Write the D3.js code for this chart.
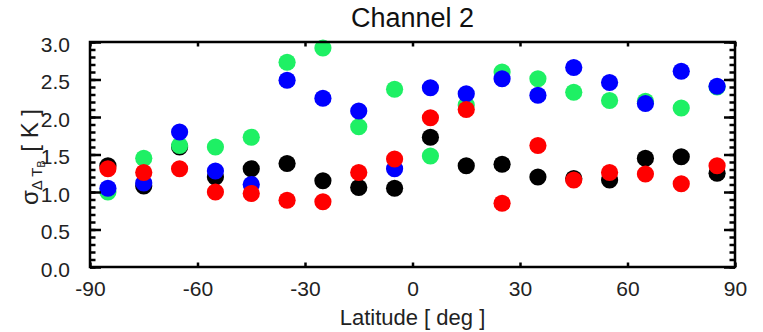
<!DOCTYPE html>
<html>
<head>
<meta charset="utf-8">
<script src="https://cdn.jsdelivr.net/npm/d3@7"></script>
<style>
  html, body { margin: 0; padding: 0; background: #fff; }
  svg { display: block; font-family: "Liberation Sans", Arial, Helvetica, sans-serif; }
</style>
</head>
<body>
<svg id="chart" width="763" height="332"></svg>
<script>
// Latitude bin centres (deg)
const latitudes = [-85, -75, -65, -55, -45, -35, -25, -15, -5, 5, 15, 25, 35, 45, 55, 65, 75, 85];

// Standard deviation of the brightness-temperature difference per latitude bin (K)
const seriesBlack = [1.35, 1.08, 1.60, 1.20, 1.31, 1.38, 1.15, 1.06, 1.05, 1.73, 1.35, 1.37, 1.20, 1.18, 1.16, 1.45, 1.47, 1.25];
const seriesGreen = [1.00, 1.45, 1.62, 1.60, 1.73, 2.73, 2.92, 1.87, 2.37, 1.48, 2.16, 2.60, 2.51, 2.33, 2.22, 2.21, 2.12, 2.40];
const seriesBlue  = [1.05, 1.12, 1.80, 1.28, 1.10, 2.49, 2.25, 2.08, 1.31, 2.39, 2.31, 2.51, 2.29, 2.66, 2.46, 2.18, 2.61, 2.41];
const seriesRed   = [1.31, 1.26, 1.31, 1.00, 0.98, 0.89, 0.87, 1.26, 1.44, 1.99, 2.10, 0.85, 1.62, 1.16, 1.26, 1.24, 1.11, 1.35];

const seriesColors = ["#000000", "#1ef064", "#0000ff", "#ff0000"];

// Axis ticks
const xTicks = [-90, -60, -30, 0, 30, 60, 90];
const yTicks = [0.0, 0.5, 1.0, 1.5, 2.0, 2.5, 3.0];
const yMinorTicks = d3.range(0, 3.0001, 0.1);

const titleText = "Channel 2";
const xTitle = "Latitude [ deg ]";

const svg = d3.select("#chart");
const plot = { left: 90, right: 735, top: 42, bottom: 267 };

const x = d3.scaleLinear().domain([-90, 90]).range([plot.left, plot.right]);
const y = d3.scaleLinear().domain([0, 3]).range([plot.bottom, plot.top]);

const fontSize = 21;
const stroke = 2.5;

// Points, drawn in series order so later colours sit on top
const series = [seriesBlack, seriesGreen, seriesBlue, seriesRed];
series.forEach((vals, i) => {
  svg.append("g")
    .selectAll("circle")
    .data(latitudes.map((lat, j) => ({ lat, v: vals[j] })))
    .join("circle")
    .attr("cx", d => x(d.lat))
    .attr("cy", d => y(d.v))
    .attr("r", 8.6)
    .attr("fill", seriesColors[i]);
});

function styleAxis(g) {
  g.select(".domain").remove();
  g.selectAll(".tick line").attr("stroke", "#000").attr("stroke-width", stroke);
  g.selectAll(".tick text").attr("fill", "#222").attr("font-size", fontSize);
}

// Left axis: major ticks with labels, minor ticks inward
svg.append("g")
  .attr("transform", `translate(${plot.left},0)`)
  .call(d3.axisLeft(y).tickValues(yMinorTicks).tickSize(-5.5).tickFormat(""))
  .call(styleAxis);
svg.append("g")
  .attr("transform", `translate(${plot.left},0)`)
  .call(d3.axisLeft(y).tickValues(yTicks).tickSize(-11).tickPadding(20).tickFormat(d => d.toFixed(1)))
  .call(styleAxis)
  .call(g => g.selectAll(".tick text").attr("dy", "0.45em"));

// Right axis: mirrored ticks, no labels
svg.append("g")
  .attr("transform", `translate(${plot.right},0)`)
  .call(d3.axisRight(y).tickValues(yMinorTicks).tickSize(-5.5).tickFormat(""))
  .call(styleAxis);
svg.append("g")
  .attr("transform", `translate(${plot.right},0)`)
  .call(d3.axisRight(y).tickValues(yTicks).tickSize(-11).tickFormat(""))
  .call(styleAxis);

// Bottom axis with labels (plain hyphen for negatives)
svg.append("g")
  .attr("transform", `translate(0,${plot.bottom})`)
  .call(d3.axisBottom(x).tickValues(xTicks).tickSize(-4.5).tickPadding(14).tickFormat(d => String(d)))
  .call(styleAxis);

// Top axis, ticks only
svg.append("g")
  .attr("transform", `translate(0,${plot.top})`)
  .call(d3.axisTop(x).tickValues(xTicks).tickSize(-4.5).tickFormat(""))
  .call(styleAxis);

// Plot frame
svg.append("rect")
  .attr("x", plot.left).attr("y", plot.top)
  .attr("width", plot.right - plot.left).attr("height", plot.bottom - plot.top)
  .attr("fill", "none").attr("stroke", "#000").attr("stroke-width", stroke);

// Title
svg.append("text")
  .attr("x", (plot.left + plot.right) / 2)
  .attr("y", 27)
  .attr("text-anchor", "middle")
  .attr("font-size", 27)
  .attr("fill", "#111")
  .text(titleText);

// X axis title
svg.append("text")
  .attr("x", (plot.left + plot.right) / 2)
  .attr("y", 325)
  .attr("text-anchor", "middle")
  .attr("font-size", 22)
  .attr("fill", "#222")
  .text(xTitle);

// Y axis title: sigma with nested subscripts
const yt = svg.append("text")
  .attr("transform", "translate(38,157) rotate(-90)")
  .attr("text-anchor", "middle")
  .attr("fill", "#222")
  .attr("font-size", 24);
yt.append("tspan").text("σ");
yt.append("tspan").attr("font-size", 15).attr("dy", 4).text("Δ T");
yt.append("tspan").attr("font-size", 11).attr("dy", 3).text("B");
yt.append("tspan").attr("dy", -7).attr("dx", 2).text(" [ K ]");
</script>
</body>
</html>
